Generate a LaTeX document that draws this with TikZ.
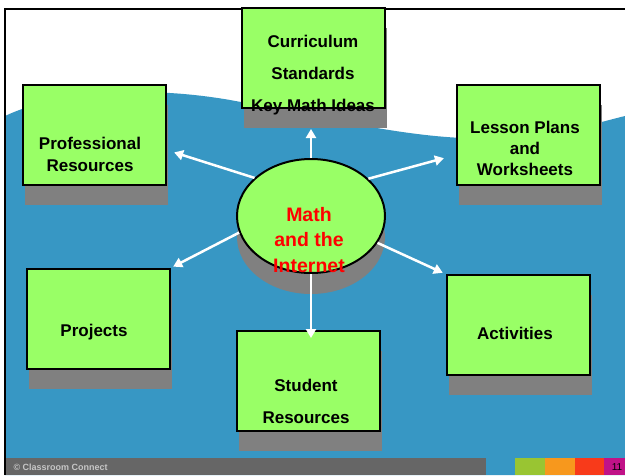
\documentclass[tikz,border=0pt]{standalone}
\usepackage{fontspec}
\setmainfont{Liberation Sans}
\usetikzlibrary{shapes.geometric, shadows, arrows.meta}
\definecolor{boxgreen}{RGB}{153,255,102}
\definecolor{seablue}{RGB}{55,151,196}
\definecolor{bargray}{RGB}{102,102,102}
\definecolor{tabgreen}{RGB}{153,197,50}
\definecolor{taborange}{RGB}{247,152,29}
\definecolor{tabred}{RGB}{248,58,26}
\definecolor{tabpink}{RGB}{192,18,135}

\begin{document}
\begin{tikzpicture}[x=1pt, y=-1pt, align=center,
	main/.style = {draw, line width=2pt, fill=boxgreen, minimum width=143pt, minimum height=100pt, drop shadow={shadow xshift=2pt, shadow yshift=-20pt, fill=gray, opacity=1}},
	hub/.style = {draw, ellipse, line width=2pt, fill=boxgreen, minimum width=148pt, minimum height=114pt, drop shadow={shadow xshift=0pt, shadow yshift=-21pt, fill=gray, opacity=1}},
	txt/.style = {font=\bfseries\fontsize{17}{22}\selectfont},
	link/.style = {draw=white, line width=2.5pt, -{Triangle[width=10pt, length=9pt]}}]
	% slide background
	\useasboundingbox (0,0) rectangle (625,475);
	\fill[white] (0,0) rectangle (625,475);
	\fill[seablue] (5,116) .. controls (60,90) and (150,86) .. (230,100) .. controls (330,118) and (420,142) .. (500,138) .. controls (560,135) and (600,122) .. (625,116) -- (625,475) -- (5,475) -- cycle;
	\draw[line width=2pt] (5,475) -- (5,9) -- (625,9);
	\fill[bargray] (6,458) rectangle (486,475);
	\foreach \x/\w/\c in {515/30/tabgreen, 545/30/taborange, 575/29/tabred, 604/21/tabpink}
		\fill[\c] (\x,458) rectangle ++(\w,17);
	\node[font=\bfseries\fontsize{9}{10}\selectfont, text=gray!45, anchor=west] (foot) at (10,467) {© Classroom Connect};
	\node[font=\fontsize{10}{11}\selectfont] (page) at (617,467) {11};

	% hub and boxes
	\node[hub] (0) at (311,216) {};
	\node[main] (1) at (313,58) {};
	\node[main] (2) at (94,135) {};
	\node[main] (3) at (528,135) {};
	\node[main] (4) at (98,319) {};
	\node[main] (5) at (518,325) {};
	\node[main] (6) at (308,381) {};

	% links
	\draw[link, shorten >=20pt] (0.north) -- (0.north |- 1.south);
	\draw[link, shorten >=8pt] (0.146) -- ([yshift=-15pt]2.east);
	\draw[link, shorten >=12pt] (0.33) -- ([yshift=-20pt]3.west);
	\draw[link, shorten >=3pt] (0.193) -- (4.north east);
	\draw[link, shorten >=3pt] (0.338) -- (5.north west);
	\draw[link, shorten >=-8pt] (0.south) -- (0.south |- 6.north);

	% texts
	\node[txt, font=\bfseries\fontsize{17}{32}\selectfont] (t1) at (313,75) {Curriculum\\Standards\\Key Math Ideas};
	\node[txt] (t2) at (90,154) {Professional\\Resources};
	\node[txt, font=\bfseries\fontsize{17}{21}\selectfont] (t3) at (525,148) {Lesson Plans\\and\\Worksheets};
	\node[txt] (t4) at (94,332) {Projects};
	\node[txt] (t5) at (515,333) {Activities};
	\node[txt, font=\bfseries\fontsize{17}{32}\selectfont] (t6) at (306,401) {Student\\Resources};
	\node[txt, text=red, font=\bfseries\fontsize{19.5}{25.5}\selectfont] (t0) at (309,240) {Math\\and the\\Internet};
\end{tikzpicture}
\end{document}
